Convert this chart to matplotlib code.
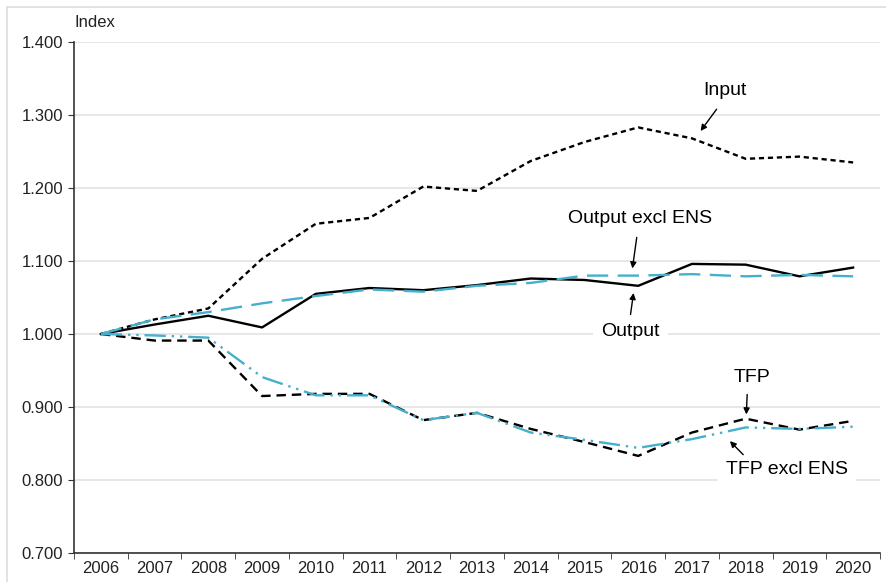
import matplotlib.pyplot as plt
from matplotlib.patches import Rectangle
from matplotlib.ticker import FixedLocator, NullFormatter

# Data (index, 2006 = 1.000)
anos = ["2006", "2007", "2008", "2009", "2010", "2011", "2012", "2013",
        "2014", "2015", "2016", "2017", "2018", "2019", "2020"]
input_idx = [1.000, 1.020, 1.035, 1.103, 1.151, 1.159, 1.202, 1.196,
             1.237, 1.263, 1.283, 1.268, 1.240, 1.243, 1.235]
output_idx = [1.000, 1.013, 1.025, 1.009, 1.055, 1.063, 1.060, 1.067,
              1.076, 1.074, 1.066, 1.096, 1.095, 1.079, 1.091]
output_excl_ens = [1.000, 1.020, 1.030, 1.042, 1.052, 1.061, 1.058, 1.066,
                   1.070, 1.080, 1.080, 1.082, 1.079, 1.081, 1.079]
tfp = [1.000, 0.991, 0.991, 0.915, 0.918, 0.918, 0.882, 0.892,
       0.870, 0.852, 0.833, 0.865, 0.884, 0.869, 0.881]
tfp_excl_ens = [1.000, 0.998, 0.995, 0.941, 0.916, 0.916, 0.882, 0.892,
                0.865, 0.855, 0.844, 0.856, 0.872, 0.870, 0.873]

azul = "#45B0CC"

fig = plt.figure(figsize=(8.86, 5.82), dpi=100)
plt.rcParams['font.family'] = ['Liberation Sans', 'DejaVu Sans']

# moldura cinza clara em volta da figura
fig.patches.append(Rectangle((7 / 886, -0.1), 1.2, 1 - 7 / 582 + 0.1,
                             transform=fig.transFigure, fill=False,
                             edgecolor="#dddddd", lw=1.2))

ax = fig.add_axes([74 / 886, 1 - 553 / 582, (880 - 74) / 886, (553 - 42) / 582])
x = range(len(anos))

ax.plot(x, input_idx, color="black", lw=1.7, dashes=(2.2, 1.6))
ax.plot(x, output_idx, color="black", lw=1.7)
ax.plot(x, tfp, color="black", lw=1.7, dashes=(4, 2.5))
ax.plot(x, output_excl_ens, color=azul, lw=1.7, dashes=(9, 4))
ax.plot(x, tfp_excl_ens, color=azul, lw=1.7, dashes=(9, 2.5, 1, 2.5, 1, 2.5))

# Eixos
ax.set_xlim(-0.5, len(anos) - 0.5)
ax.set_ylim(0.7, 1.4)
ax.set_yticks([0.7 + 0.1 * i for i in range(8)])
ax.set_yticklabels([f"{0.7 + 0.1 * i:.3f}" for i in range(8)], fontsize=12, color="#222222")
ax.set_xticks(list(x))
ax.set_xticklabels(anos, fontsize=12, color="#222222")
ax.tick_params(axis="x", which="major", length=0, pad=6)
ax.xaxis.set_minor_locator(FixedLocator([i - 0.5 for i in range(len(anos) + 1)]))
ax.xaxis.set_minor_formatter(NullFormatter())
ax.tick_params(axis="x", which="minor", length=4, color="#333333")
ax.tick_params(axis="y", length=4, color="#333333", pad=4)
ax.grid(axis="y", color="#e3e3e3", lw=1.2)
ax.set_axisbelow(True)
for lado in ["top", "right"]:
    ax.spines[lado].set_visible(False)
for lado in ["left", "bottom"]:
    ax.spines[lado].set_color("#333333")
    ax.spines[lado].set_linewidth(1.2)

ax.text(-0.5, 1.427, "Index", fontsize=12, color="#222222",
        ha="left", va="center", clip_on=False)

# Rótulos e setas
seta = dict(arrowstyle="-|>", color="black", lw=1.0, mutation_scale=9)
ax.text(11.62, 1.334, "Input", fontsize=14, ha="center", va="center")
ax.annotate("", xy=(11.13, 1.275), xytext=(11.49, 1.311), arrowprops=seta)

ax.text(10.03, 1.158, "Output excl ENS", fontsize=14, ha="center", va="center")
ax.annotate("", xy=(9.885, 1.086), xytext=(9.98, 1.136), arrowprops=seta)

ax.text(9.85, 1.003, "Output", fontsize=14, ha="center", va="center",
        bbox=dict(facecolor="white", edgecolor="none", pad=6))
ax.annotate("", xy=(9.92, 1.060), xytext=(9.85, 1.023), arrowprops=seta)

ax.text(12.12, 0.940, "TFP", fontsize=14, ha="center", va="center")
ax.annotate("", xy=(12.01, 0.886), xytext=(12.03, 0.921), arrowprops=seta)

ax.text(12.77, 0.814, "TFP excl ENS", fontsize=14, ha="center", va="center",
        bbox=dict(facecolor="white", edgecolor="none", pad=6))
ax.annotate("", xy=(11.67, 0.856), xytext=(11.99, 0.832), arrowprops=seta)

plt.savefig("out.png", dpi=100)
plt.close()
